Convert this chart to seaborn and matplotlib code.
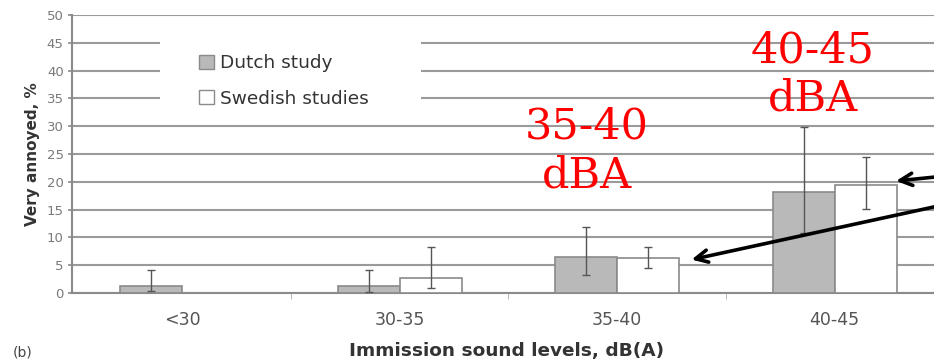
import numpy as np
import pandas as pd
import matplotlib
matplotlib.use('Agg')
import matplotlib.pyplot as plt
import seaborn as sns
from matplotlib.patches import Patch, Rectangle

# Data
categories = ['<30', '30-35', '35-40', '40-45']
dutch = [1.3, 1.3, 6.5, 18.2]
dutch_lo = [0.3, 0.2, 3.2, 10.8]
dutch_hi = [4.1, 4.2, 11.9, 29.9]
swedish = [np.nan, 2.7, 6.3, 19.4]
swedish_lo = [np.nan, 0.9, 4.5, 15.1]
swedish_hi = [np.nan, 8.3, 8.3, 24.5]
studies = ['Dutch study', 'Swedish studies']

df = pd.DataFrame({
    'level': categories * 2,
    'study': [studies[0]] * 4 + [studies[1]] * 4,
    'value': dutch + swedish,
})

sns.set_style('white')
plt.rcParams['font.family'] = ['DejaVu Sans']

fig = plt.figure(figsize=(9.34, 3.61), dpi=100)
ax = fig.add_axes([72 / 934, 1 - 293 / 361, 1 - 72 / 934, (293 - 15) / 361])

width = 0.57
sns.barplot(data=df, x='level', y='value', hue='study', order=categories,
            hue_order=studies, palette=['#b9b9b9', 'white'], width=width,
            errorbar=None, edgecolor='#8a8a8a', linewidth=1.2, legend=False,
            ax=ax, zorder=3)

# error bars
bw = width / 2
xs = np.arange(len(categories))
for j, (v, lo, hi) in enumerate([(dutch, dutch_lo, dutch_hi),
                                 (swedish, swedish_lo, swedish_hi)]):
    v = np.array(v); lo = np.array(lo); hi = np.array(hi)
    ax.errorbar(xs + (j - 0.5) * bw, v, yerr=[v - lo, hi - v], fmt='none',
                ecolor='#555555', elinewidth=1.0, capsize=3, capthick=1.0, zorder=4)

ax.set_ylim(0, 50)
ax.set_yticks(range(0, 51, 5))
ax.set_xlim(-0.506, 3.457)
ax.yaxis.grid(True, color='#9a9a9a', linewidth=1.5, zorder=0)
ax.set_axisbelow(True)
for s in ['top', 'right']:
    ax.spines[s].set_visible(False)
for s in ['left', 'bottom']:
    ax.spines[s].set_color('#8a8a8a')
    ax.spines[s].set_linewidth(1.5)

ax.tick_params(axis='y', left=True, length=3, width=1.2, color='#8a8a8a',
               labelsize=9.5, labelcolor='#7a7a7a', pad=3)
ax.tick_params(axis='x', which='major', length=0, labelsize=12.5,
               labelcolor='#555555', pad=13)
ax.set_xticks(np.arange(0.5, 3.5, 1), minor=True)
ax.tick_params(axis='x', which='minor', bottom=True, length=4, color='#aaaaaa')
ax.set_xlabel('')
ax.set_ylabel('Very annoyed, %', fontsize=11, fontweight='bold', color='#333333',
              labelpad=5)

# white area behind the legend
ax.add_patch(Rectangle((-0.10, 31.5), 1.2, 15.3, facecolor='white',
                       edgecolor='none', zorder=1))
handles = [Patch(facecolor='#b9b9b9', edgecolor='#8a8a8a', label=studies[0]),
           Patch(facecolor='white', edgecolor='#8a8a8a', label=studies[1])]
fig.legend(handles=handles, loc='upper left', bbox_to_anchor=(190 / 934, 1 - 45 / 361),
           frameon=False, fontsize=13.3, handlelength=0.8, handleheight=0.8,
           handletextpad=0.35, labelspacing=0.95, borderpad=0, labelcolor='#333333')

# red annotations
red = dict(color='#ff0000', fontsize=31, family='DejaVu Serif', ha='center',
           va='baseline', zorder=6, clip_on=False)
ax.text(1.862, 27.7, '35-40', **red)
ax.text(1.862, 19.06, 'dBA', **red)
ax.text(2.901, 41.5, '40-45', **red)
ax.text(2.901, 32.9, 'dBA', **red)

# arrows
arrow = dict(arrowstyle='->', color='black', lw=2.6, mutation_scale=22)
ax.annotate('', xy=(3.27, 20.1), xytext=(3.6, 21.4), arrowprops=arrow, zorder=7)
ax.annotate('', xy=(2.33, 5.9), xytext=(3.6, 16.7), arrowprops=arrow, zorder=7)

fig.text(507 / 934, 1 - 351 / 361, 'Immission sound levels, dB(A)', fontsize=13.3,
         fontweight='bold', color='#333333', ha='center', va='center')
fig.text(23 / 934, 1 - 352 / 361, '(b)', fontsize=10, color='#444444',
         ha='center', va='center')

fig.savefig('out.png', dpi=100)
